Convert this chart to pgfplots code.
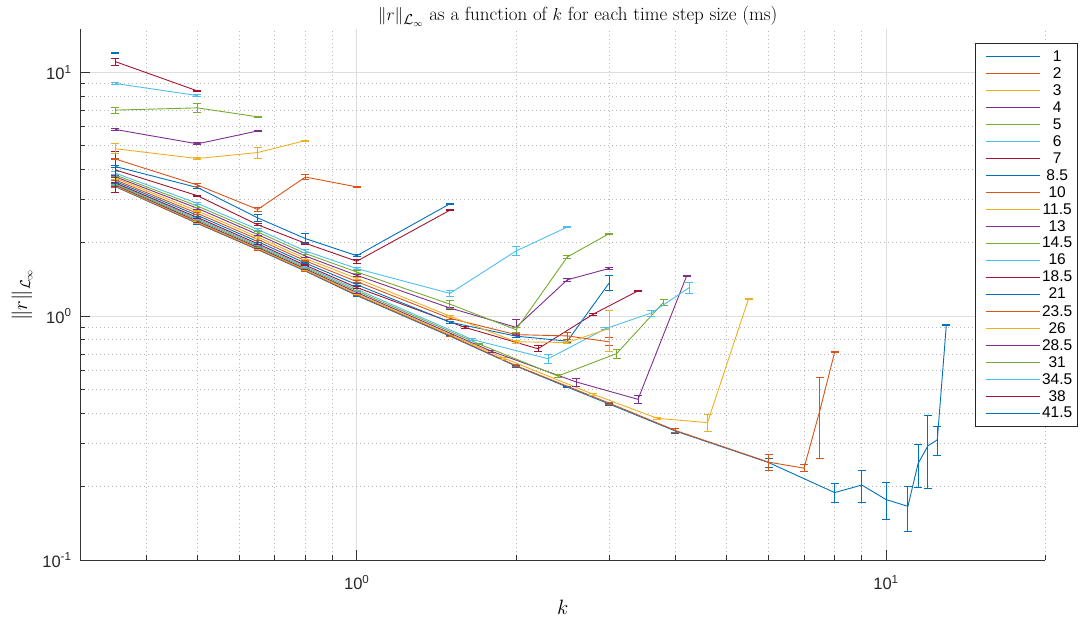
\documentclass[border=0pt]{standalone}
\usepackage{fontspec}
\usepackage{pgfplots}
\usepackage{pgfplotstable}
\pgfplotsset{compat=1.18}
\newfontfamily\arial{Liberation Sans}

\definecolor{mA}{rgb}{0,0.447,0.741}
\definecolor{mB}{rgb}{0.850,0.325,0.098}
\definecolor{mC}{rgb}{0.929,0.694,0.125}
\definecolor{mD}{rgb}{0.494,0.184,0.556}
\definecolor{mE}{rgb}{0.466,0.674,0.188}
\definecolor{mF}{rgb}{0.301,0.745,0.933}
\definecolor{mG}{rgb}{0.635,0.078,0.184}

% one table per time step size: k, ||r||, error
\pgfplotstableread{
k v e
0.35 3.40 0.03
0.5 2.40 0.02
0.65 1.875 0.015
0.8 1.53 0.01
1 1.215 0.01
1.5 0.828 0.006
2 0.624 0.005
2.5 0.512 0.004
3 0.436 0.004
4 0.338 0.008
6 0.251 0.011
8 0.189 0.017
9 0.203 0.030
10 0.177 0.031
11 0.166 0.035
11.5 0.249 0.050
12 0.294 0.097
12.5 0.311 0.043
13 0.918 0.005
}\sA
\pgfplotstableread{
k v e
0.35 3.41 0.03
0.5 2.41 0.02
0.65 1.883 0.015
0.8 1.537 0.01
1 1.223 0.01
1.5 0.833 0.006
2 0.627 0.005
3 0.440 0.004
4 0.340 0.006
6 0.252 0.019
7 0.238 0.008
7.5 0.41 0.15
8 0.713 0.004
}\sB
\pgfplotstableread{
k v e
0.35 3.43 0.03
0.5 2.43 0.02
0.65 1.898 0.015
0.8 1.548 0.01
1 1.235 0.01
1.9 0.672 0.005
2.8 0.478 0.005
3.7 0.381 0.004
4.6 0.366 0.030
5.5 1.18 0.005
}\sC
\pgfplotstableread{
k v e
0.35 3.45 0.03
0.5 2.45 0.02
0.65 1.915 0.015
0.8 1.563 0.01
1 1.251 0.01
1.8 0.717 0.005
2.6 0.537 0.020
3.4 0.456 0.017
4.2 1.46 0.01
}\sD
\pgfplotstableread{
k v e
0.35 3.47 0.03
0.5 2.48 0.02
0.65 1.935 0.015
0.8 1.579 0.01
1 1.269 0.01
1.7 0.77 0.005
2.4 0.568 0.010
3.1 0.703 0.030
3.8 1.14 0.030
}\sE
\pgfplotstableread{
k v e
0.35 3.50 0.03
0.5 2.51 0.02
0.65 1.958 0.015
0.8 1.597 0.01
1 1.289 0.01
1.65 0.803 0.006
2.3 0.669 0.030
2.95 0.888 0.010
3.6 1.03 0.030
4.25 1.31 0.065
}\sF
\pgfplotstableread{
k v e
0.35 3.52 0.03
0.5 2.54 0.02
0.65 1.982 0.015
0.8 1.617 0.01
1 1.311 0.01
1.6 0.90 0.006
2.2 0.735 0.020
2.8 1.02 0.010
3.4 1.27 0.005
}\sG
\pgfplotstableread{
k v e
0.35 3.57 0.08
0.5 2.59 0.02
0.65 2.022 0.015
0.8 1.650 0.01
1 1.347 0.01
1.5 0.945 0.01
2 0.828 0.01
2.5 0.790 0.010
3 1.37 0.10
}\sH
\pgfplotstableread{
k v e
0.35 3.62 0.03
0.5 2.64 0.02
0.65 2.066 0.015
0.8 1.686 0.01
1 1.386 0.01
1.5 0.98 0.01
2 0.84 0.01
2.5 0.83 0.03
3 0.785 0.03
}\sI
\pgfplotstableread{
k v e
0.35 3.68 0.04
0.5 2.70 0.02
0.65 2.112 0.02
0.8 1.724 0.02
1 1.428 0.01
1.5 1.00 0.01
2 0.785 0.01
2.5 0.78 0.01
3 0.89 0.17
}\sJ
\pgfplotstableread{
k v e
0.35 3.73 0.03
0.5 2.77 0.03
0.65 2.162 0.02
0.8 1.764 0.02
1 1.471 0.01
1.5 1.08 0.01
2 0.90 0.065
2.5 1.41 0.02
3 1.57 0.01
}\sK
\pgfplotstableread{
k v e
0.35 3.79 0.04
0.5 2.83 0.03
0.65 2.214 0.02
0.8 1.807 0.02
1 1.518 0.015
1.5 1.12 0.04
2 0.88 0.02
2.5 1.75 0.03
3 2.18 0.01
}\sL
\pgfplotstableread{
k v e
0.35 3.86 0.05
0.5 2.90 0.04
0.65 2.269 0.03
0.8 1.851 0.02
1 1.567 0.015
1.5 1.24 0.04
2 1.85 0.08
2.5 2.32 0.01
}\sM
\pgfplotstableread{
k v e
0.35 3.98 0.75
0.5 3.12 0.02
0.65 2.37 0.02
0.8 1.99 0.02
1 1.68 0.03
1.5 2.72 0.01
}\sN
\pgfplotstableread{
k v e
0.35 4.11 0.03
0.5 3.37 0.03
0.65 2.53 0.08
0.8 2.08 0.10
1 1.77 0.02
1.5 2.89 0.01
}\sO
\pgfplotstableread{
k v e
0.35 4.41 0.03
0.5 3.45 0.05
0.65 2.74 0.06
0.8 3.72 0.10
1 3.39 0.02
}\sP
\pgfplotstableread{
k v e
0.35 4.86 0.23
0.5 4.43 0.05
0.65 4.69 0.25
0.8 5.25 0.03
}\sQ
\pgfplotstableread{
k v e
0.35 5.83 0.03
0.5 5.09 0.05
0.65 5.75 0.03
}\sR
\pgfplotstableread{
k v e
0.35 7.00 0.20
0.5 7.15 0.30
0.65 6.57 0.05
}\sS
\pgfplotstableread{
k v e
0.35 9.00 0.06
0.5 8.03 0.08
}\sT
\pgfplotstableread{
k v e
0.35 11.06 0.35
0.5 8.39 0.06
}\sU
\pgfplotstableread{
k v e
0.35 12.04 0.06
}\sV

\pgfplotsset{
  ebar/.style={color=#1, mark=none, line width=0.9pt,
    error bars/.cd, y dir=both, y explicit,
    error bar style={line width=0.9pt, color=#1},
    error mark options={rotate=90, mark size=4pt, line width=0.9pt, color=#1}},
}

\begin{document}
\begin{tikzpicture}
\useasboundingbox (-80pt,-61pt) rectangle (1004pt,560pt);
\begin{axis}[
  at={(0pt,0pt)}, anchor=south west,
  scale only axis, width=965.3pt, height=530.6pt,
  xmode=log, ymode=log,
  xmin=0.3, xmax=20, ymin=0.1, ymax=15,
  axis x line*=bottom, axis y line*=left,
  axis line style={black!80, line width=0.9pt},
  xtick={1,10},
  xticklabels={{\arial 10\textsuperscript{0}}, {\arial 10\textsuperscript{1}}},
  ytick={0.1,1,10},
  yticklabels={{\arial 10\textsuperscript{-1}}, {\arial 10\textsuperscript{0}}, {\arial 10\textsuperscript{1}}},
  minor xtick={0.4,0.5,0.6,0.7,0.8,0.9,2,3,4,5,6,7,8,9,20},
  minor ytick={0.2,0.3,0.4,0.5,0.6,0.7,0.8,0.9,2,3,4,5,6,7,8,9},
  tick align=inside,
  major tick length=9.6pt, minor tick length=4.8pt,
  every tick/.style={black!80, line width=0.8pt},
  tick label style={font=\arial\fontsize{16.5}{18}\selectfont, text=black!85},
  yticklabel style={xshift=-5pt},
  xticklabel style={yshift=-12pt},
  grid=both,
  major grid style={black!13, line width=1pt},
  minor grid style={black!28, line width=0.8pt, dash pattern=on 1pt off 3pt},
  title={$\|r\|_{\mathcal{L}_\infty}$ as a function of $k$ for each time step size (ms)},
  title style={at={(0.5,1)}, anchor=base, yshift=2.5pt, xshift=15pt, font=\fontsize{19}{22}\selectfont},
  xlabel={$k$},
  xlabel style={at={(0.5,0)}, anchor=center, yshift=-47pt, font=\fontsize{19.5}{22}\selectfont},
  ylabel={$\|r\|_{\mathcal{L}_\infty}$},
  ylabel style={at={(-0.0601,0.5)}, anchor=center, font=\fontsize{19.5}{22}\selectfont},
  legend image code/.code={\path (-7pt,0pt); \draw[#1] (0pt,0pt) -- (54pt,0pt);},
  legend cell align=center,
  legend style={at={(0.927,0.974)}, anchor=north west, draw=black!85, line width=0.7pt,
    fill=white, font=\arial\fontsize{15.5}{16}\selectfont,
    cells={anchor=center}, inner xsep=3pt, inner ysep=5.25pt, row sep=0.7pt},
]
\addplot[ebar=mA] table[x=k, y=v, y error=e] {\sA};
\addplot[ebar=mB] table[x=k, y=v, y error=e] {\sB};
\addplot[ebar=mC] table[x=k, y=v, y error=e] {\sC};
\addplot[ebar=mD] table[x=k, y=v, y error=e] {\sD};
\addplot[ebar=mE] table[x=k, y=v, y error=e] {\sE};
\addplot[ebar=mF] table[x=k, y=v, y error=e] {\sF};
\addplot[ebar=mG] table[x=k, y=v, y error=e] {\sG};
\addplot[ebar=mA] table[x=k, y=v, y error=e] {\sH};
\addplot[ebar=mB] table[x=k, y=v, y error=e] {\sI};
\addplot[ebar=mC] table[x=k, y=v, y error=e] {\sJ};
\addplot[ebar=mD] table[x=k, y=v, y error=e] {\sK};
\addplot[ebar=mE] table[x=k, y=v, y error=e] {\sL};
\addplot[ebar=mF] table[x=k, y=v, y error=e] {\sM};
\addplot[ebar=mG] table[x=k, y=v, y error=e] {\sN};
\addplot[ebar=mA] table[x=k, y=v, y error=e] {\sO};
\addplot[ebar=mB] table[x=k, y=v, y error=e] {\sP};
\addplot[ebar=mC] table[x=k, y=v, y error=e] {\sQ};
\addplot[ebar=mD] table[x=k, y=v, y error=e] {\sR};
\addplot[ebar=mE] table[x=k, y=v, y error=e] {\sS};
\addplot[ebar=mF] table[x=k, y=v, y error=e] {\sT};
\addplot[ebar=mG] table[x=k, y=v, y error=e] {\sU};
\addplot[ebar=mA] table[x=k, y=v, y error=e] {\sV};
\legend{1,2,3,4,5,6,7,8.5,10,11.5,13,14.5,16,18.5,21,23.5,26,28.5,31,34.5,38,41.5}
\end{axis}
\end{tikzpicture}
\end{document}
